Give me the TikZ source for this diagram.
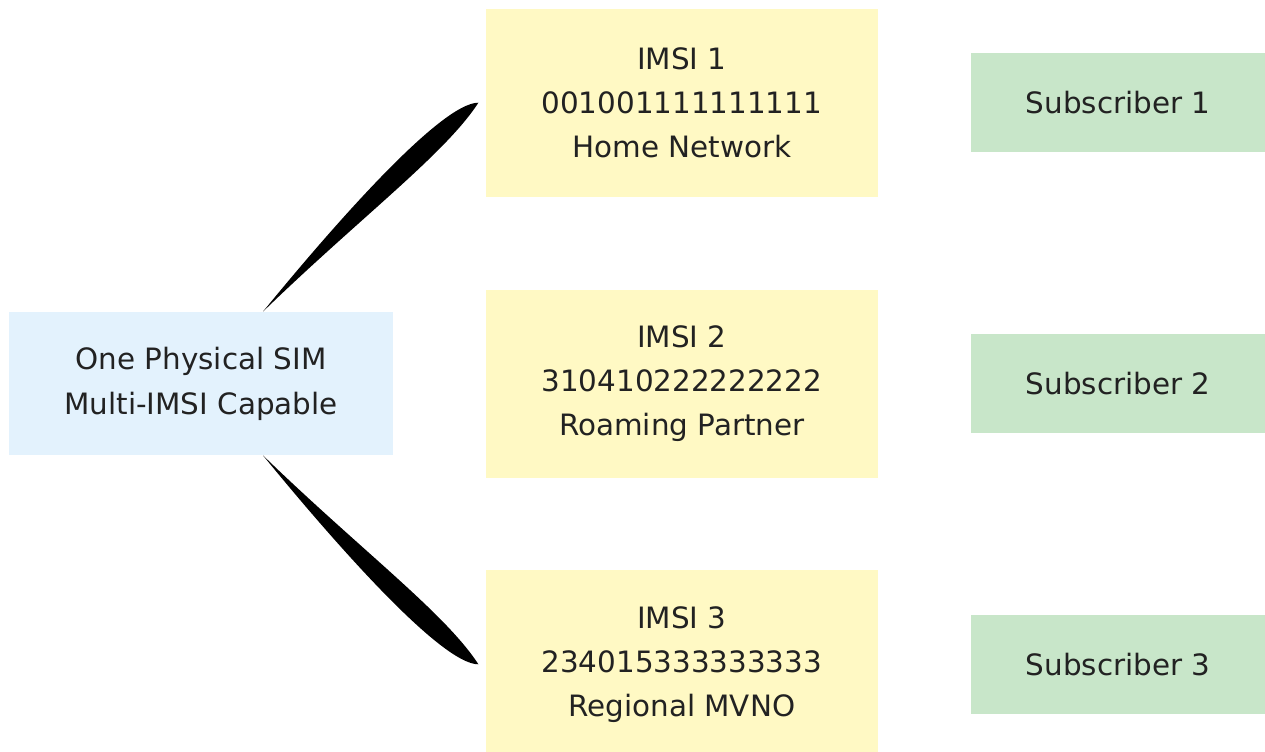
\documentclass[tikz,border=0pt]{standalone}
\usepackage{fontspec}
\setmainfont{DejaVu Sans}
\usepackage{tikz}
\usetikzlibrary{positioning,calc}
\definecolor{simblue}{HTML}{E3F2FD}
\definecolor{imsiyellow}{HTML}{FFF9C4}
\definecolor{subgreen}{HTML}{C8E6C9}
\definecolor{txt}{HTML}{222222}
\tikzstyle{sim} = [rectangle, minimum width=192pt, minimum height=71.5pt, align=center, fill=simblue, text=txt]
\tikzstyle{imsi} = [rectangle, minimum width=196pt, minimum height=94pt, align=center, fill=imsiyellow, text=txt]
\tikzstyle{subscriber} = [rectangle, minimum width=147.5pt, minimum height=49.5pt, align=center, fill=subgreen, text=txt]
\tikzstyle{link} = [fill=black]

\begin{document}
\begin{tikzpicture}[font=\fontsize{14.7}{22}\selectfont, inner sep=0pt]
\useasboundingbox (-100.5pt,-183.75pt) rectangle (532pt,191.75pt);

% SIM
\node (sim) [sim] {One Physical SIM\\[0.5pt]Multi-IMSI Capable};

% IMSI profiles
\node (imsi2) [imsi, right=46pt of sim] {IMSI 2\\310410222222222\\Roaming Partner};
\node (imsi1) [imsi, above=46pt of imsi2] {IMSI 1\\001001111111111\\Home Network};
\node (imsi3) [imsi, below=46pt of imsi2] {IMSI 3\\234015333333333\\Regional MVNO};

% Subscribers
\node (sub1) [subscriber, right=46pt of imsi1] {Subscriber 1};
\node (sub2) [subscriber, right=46pt of imsi2] {Subscriber 2};
\node (sub3) [subscriber, right=46pt of imsi3] {Subscriber 3};

% Tapered links
\coordinate (s1) at ([xshift=31pt]sim.north);
\coordinate (e1) at ([xshift=-3.5pt]imsi1.west);
\coordinate (s3) at ([xshift=31pt]sim.south);
\coordinate (e3) at ([xshift=-3.5pt]imsi3.west);

\fill [link] (s1) .. controls +(33.5pt,41pt) and +(-19pt,0pt) .. (e1)
  .. controls +(-16.5pt,-25.5pt) and +(48.5pt,47pt) .. (s1) -- cycle;
\fill [link] (s3) .. controls +(33.5pt,-41pt) and +(-19pt,0pt) .. (e3)
  .. controls +(-16.5pt,25.5pt) and +(48.5pt,-47pt) .. (s3) -- cycle;

\end{tikzpicture}
\end{document}
